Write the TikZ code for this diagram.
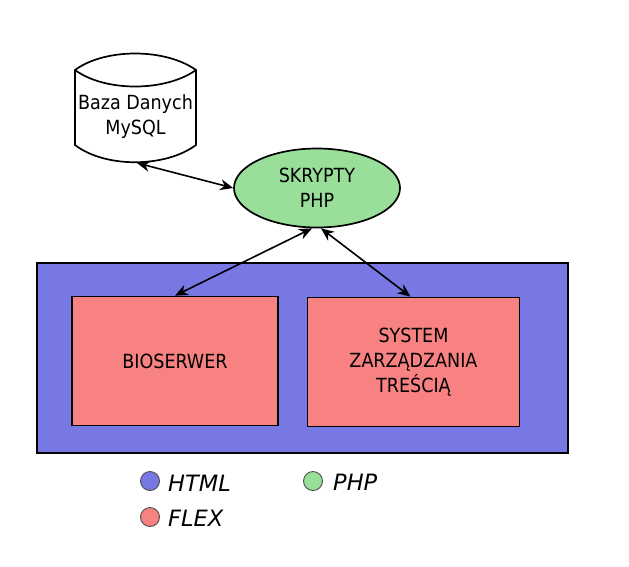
\documentclass[tikz,border=0pt]{standalone}
\usepackage{fontspec}
\setmainfont{DejaVu Sans Condensed}
\newfontfamily\legendfont{DejaVu Sans}
\usetikzlibrary{shapes.geometric,arrows.meta}
\definecolor{htmlblue}{HTML}{7878E4}
\definecolor{flexred}{HTML}{F88282}
\definecolor{phpgreen}{HTML}{99DF99}
\tikzset{
  x=1pt,y=-1pt,
  every node/.style={font=\fontsize{19.5}{25}\selectfont, align=center},
  box/.style={draw=black, line width=1.7pt, fill=flexred, minimum width=#1, minimum height=129pt, inner sep=0pt},
  link/.style={line width=1.6pt, {Stealth[length=13pt,width=11pt]}-{Stealth[length=13pt,width=11pt]}},
  dot/.style={circle, draw=black!70, line width=0.9pt, minimum size=19pt, inner sep=0pt, fill=#1},
  legtext/.style={font=\legendfont\itshape\fontsize{22.5}{26}\selectfont, anchor=west, inner sep=0pt}
}
\begin{document}
\begin{tikzpicture}
\useasboundingbox (0,0) rectangle (629,566);
% database cylinder
\draw[line width=1.7pt, fill=white]
  (75,70) .. controls (105,48) and (165,48) .. (196,70)
  -- (196,145) .. controls (165,168) and (105,168) .. (75,145) -- cycle;
\draw[line width=1.7pt] (75,70) .. controls (105,92) and (165,92) .. (196,70);
\node (db) at (135.5,117) {Baza Danych\\MySQL};
\coordinate (dbb) at (137,163);
% php ellipse
\node[ellipse, draw=black, line width=1.7pt, fill=phpgreen, minimum width=166pt, minimum height=79pt, inner sep=0pt] (php) at (317,188) {SKRYPTY\\PHP};
% html container
\node[draw=black, line width=1.7pt, fill=htmlblue, minimum width=531pt, minimum height=190pt, inner sep=0pt] (html) at (302.5,358) {};
% flex boxes
\node[box=206pt] (bio) at (175,361) {BIOSERWER};
\node[box=212pt] (cms) at (413.5,362) {SYSTEM\\ZARZĄDZANIA\\TREŚCIĄ};
% connectors
\coordinate (p1) at ([xshift=-5pt]php.south);
\coordinate (p2) at ([xshift=4pt]php.south);
\draw[link] (dbb) -- (php.west);
\draw[link] (p1) -- (bio.north);
\draw[link] (p2) -- ([xshift=-3pt]cms.north);
% legend
\node[dot=htmlblue] (lh) at (150,481) {};
\node[dot=flexred] (lf) at (150,517) {};
\node[dot=phpgreen] (lp) at (313,481) {};
\node[legtext] (th) at (168,483) {HTML};
\node[legtext] (tf) at (168,518) {FLEX};
\node[legtext] (tp) at (333,482) {PHP};
\end{tikzpicture}
\end{document}
